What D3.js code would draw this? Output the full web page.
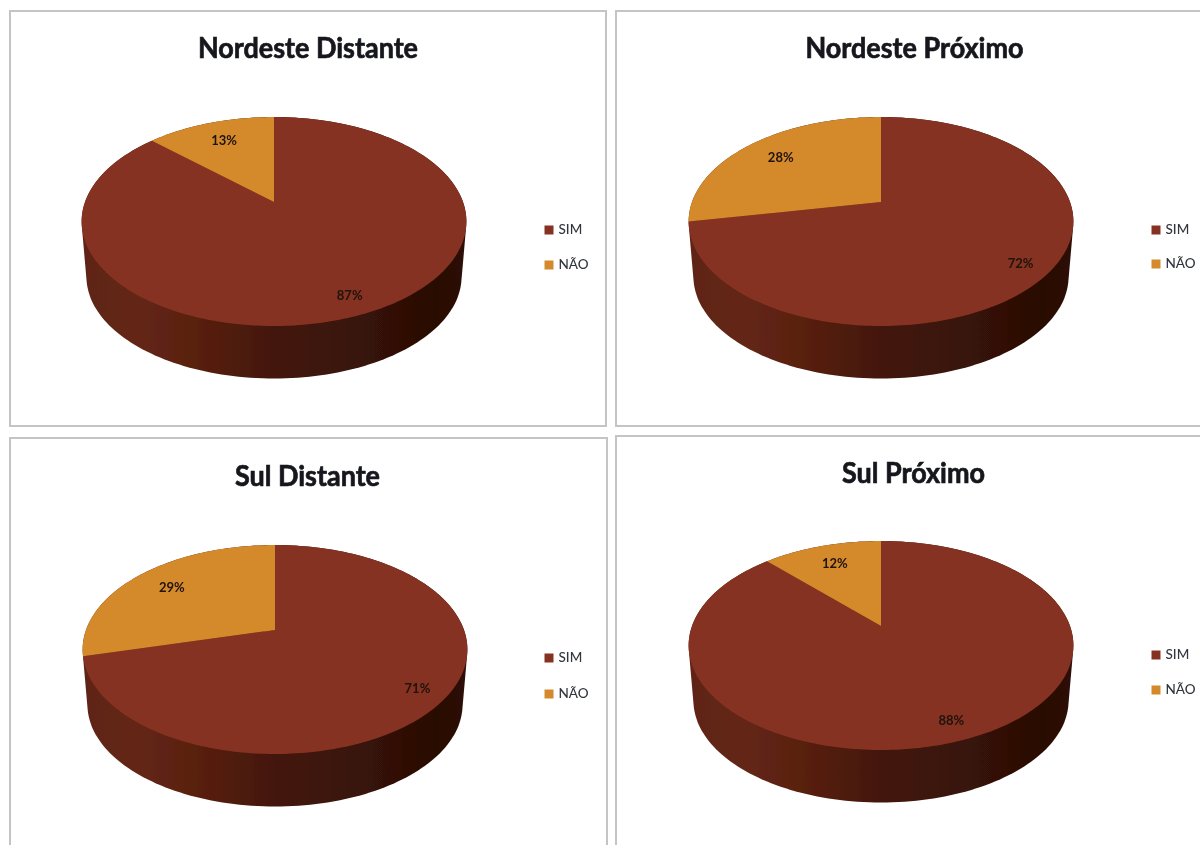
<!DOCTYPE html>
<html><head><meta charset="utf-8">
<script src="https://cdn.jsdelivr.net/npm/d3@7/dist/d3.min.js"></script>
<style>html,body{margin:0;padding:0;background:#fff;overflow:hidden}svg{display:block}</style>
</head><body><svg id="c" width="1200" height="845"></svg>
<script>
const titles = ["Nordeste Distante","Nordeste Próximo","Sul Distante","Sul Próximo"];
const categories = ["SIM","NÃO"];
const simValues = [87,72,71,88];
const naoValues = [13,28,29,12];
const colors = ["#863220","#d48a2c"];

const layouts = [
  {box:[10,11,596,415], cx:274, top:117, titleX:308, titleY:58, lx:549, ly:[230,265]},
  {box:[616,11,600,415], cx:881, top:117, titleX:914.5, titleY:58, lx:1156, ly:[230,264]},
  {box:[10,438,597,420], cx:275, top:545, titleX:307.5, titleY:486, lx:549, ly:[658,694]},
  {box:[616,436,600,420], cx:881, top:541, titleX:913.5, titleY:483, lx:1156, ly:[655,690]}
];
// Perspective projection of the unit disc on the tilted pie
const RX=189, UP=85, DOWN=124, DEPTH=52.5, BOTTOM_SCALE=0.975;
const c=(UP-DOWN)/(UP+DOWN);
function project(L,u,v){
  const d=1+c*v, apex=L.top+UP;
  const A=DOWN*(1+c);
  return [L.cx+RX*u/d, apex+A*v/d];
}
const rim=(L,t,r=1)=>project(L,r*Math.sin(t),-r*Math.cos(t));
const TAU=Math.PI*2;
const line=d3.line();
const svg=d3.select("#c");
const defs=svg.append("defs");
const blur=defs.append("filter").attr("id","soft").attr("filterUnits","userSpaceOnUse")
  .attr("x",0).attr("y",0).attr("width",1200).attr("height",845);
blur.append("feGaussianBlur").attr("stdDeviation",0.6);
const g=defs.append("linearGradient").attr("id","side");
[[0,"#5f2412"],[0.15,"#642614"],[0.32,"#561f0f"],[0.5,"#43170a"],[0.75,"#361207"],[0.92,"#280e05"],[1,"#2e1107"]]
  .forEach(s=>g.append("stop").attr("offset",s[0]).attr("stop-color",s[1]));

const root=svg.append("g").attr("filter","url(#soft)");
const pie=d3.pie().sort(null).startAngle(0).endAngle(TAU);

titles.forEach((title,i)=>{
  const L=layouts[i], values=[simValues[i],naoValues[i]];
  const p=root.append("g");
  p.append("rect").attr("x",L.box[0]).attr("y",L.box[1]).attr("width",L.box[2]).attr("height",L.box[3])
    .attr("fill","#fff").attr("stroke","#c4c4c4").attr("stroke-width",2);
  p.append("text").attr("transform",`translate(${L.titleX},${L.titleY}) scale(0.93,1)`).attr("text-anchor","middle")
    .attr("font-family","Lato").attr("font-weight",700).attr("font-size",29).attr("fill","#14171c")
    .attr("stroke","#14171c").attr("stroke-width",0.7).text(title);

  const angles=d3.range(0,TAU,TAU/240);
  const topRim=angles.map(t=>rim(L,t));
  const botRim=angles.map(t=>{
    const q=rim(L,t);
    return [L.cx+(q[0]-L.cx)*BOTTOM_SCALE, L.top+UP+(q[1]-L.top-UP)*BOTTOM_SCALE+DEPTH+DOWN*(1-BOTTOM_SCALE)];
  });
  p.append("path").attr("d",line(d3.polygonHull(topRim.concat(botRim)))+"Z").attr("fill","url(#side)");

  const arcs=pie(values);
  p.selectAll("path.slice").data(arcs).join("path").attr("class","slice")
    .attr("fill",(d,k)=>colors[k])
    .attr("d",d=>{
      const n=Math.ceil((d.endAngle-d.startAngle)/0.02);
      const pts=[rim(L,0,0)].concat(d3.range(n+1).map(j=>rim(L,d.startAngle+(d.endAngle-d.startAngle)*j/n)));
      return line(pts)+"Z";
    });
  const labelRadius=[0.86,0.75];
  p.selectAll("text.val").data(arcs).join("text").attr("class","val")
    .attr("text-anchor","middle").attr("dominant-baseline","middle")
    .attr("font-family","Lato").attr("font-weight",700).attr("font-size",13).attr("fill","#1e120c")
    .each(function(d,k){
      const q=rim(L,(d.startAngle+d.endAngle)/2,labelRadius[k]);
      d3.select(this).attr("x",q[0]).attr("y",q[1]+1);
    })
    .text(d=>d.data+"%");

  categories.forEach((cat,k)=>{
    p.append("rect").attr("x",L.lx-4.5).attr("y",L.ly[k]-4.5).attr("width",9).attr("height",9).attr("fill",colors[k]);
    p.append("text").attr("x",L.lx+9.5).attr("y",L.ly[k]+1).attr("dominant-baseline","middle")
      .attr("font-family","Lato").attr("font-weight",500).attr("font-size",13.5).attr("fill","#30363c").text(cat);
  });
});
</script></body></html>
